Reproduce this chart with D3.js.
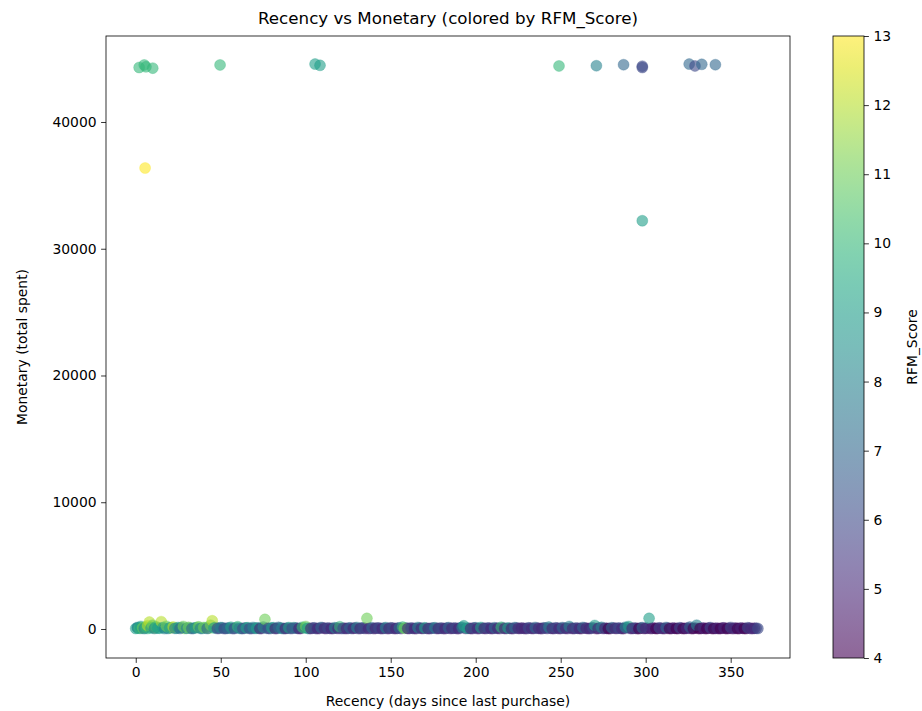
<!DOCTYPE html>
<html>
<head>
<meta charset="utf-8">
<script src="https://cdn.jsdelivr.net/npm/d3@7.9.0/dist/d3.min.js"></script>
<style>
  body { margin: 0; background: #fff; }
  svg { display: block; font-family: "DejaVu Sans", sans-serif; }
  .tick text { font-size: 13.9px; fill: #000; }
</style>
</head>
<body>
<svg id="chart" width="922" height="711"></svg>
<script>
// [recency days, monetary, RFM_Score]
const highSpenders = [
  [2, 44300, 10], [5, 44500, 10], [6, 44350, 10], [10, 44250, 10],
  [49.6, 44500, 10], [105.5, 44570, 9], [108.4, 44470, 9],
  [5.5, 36370, 13],
  [249, 44420, 10], [271, 44440, 8], [287, 44520, 7],
  [298, 44300, 6], [298, 44400, 6], [298, 32210, 9],
  [325.6, 44570, 7], [329, 44420, 6], [333, 44550, 7], [341, 44520, 7]
];

// background of the low-spend band
const bandFill = [
  [1,80,9],[3,50,8],[5,100,9],[7,40,10],[9,160,11],[11,90,12],[14,60,9],[19,40,8],
  [21,90,12],[24,60,9],[27,110,8],[29,40,11],[32,70,9],[34,50,7],[36,120,11],[39,40,8],
  [41,90,10],[43,60,11],[47,120,8],[49,50,6],[51,90,7],[53,40,6],[55,60,8],[57,30,6],
  [59,100,9],[62,40,7],[64,70,6],[66,100,9],[68,30,6],[70,50,7],[72,90,8],[74,40,6],
  [77,60,7],[79,30,6],[81,100,8],[83,40,6],[85,70,9],[87,30,6],[89,60,7],[91,40,6],
  [93,100,9],[95,60,6],[97,40,5],[99,80,10],[102,30,6],[104,70,6],[106,40,6],[108,50,5],
  [110,90,6],[112,30,5],[114,60,6],[116,40,5],[118,70,6],[121,30,6],[123,50,5],
  [125,60,6],[127,40,6],[129,70,5],[131,30,6],[133,90,7],[135,40,5],[138,60,6],[140,30,5],
  [142,70,6],[144,40,5],[146,60,7],[148,30,5],[150,90,6],[152,40,5],[154,60,6],[156,30,5],
  [159,80,7],[161,40,5],[163,60,6],[165,30,5],[167,70,6],[169,40,5],[171,60,6],[173,30,5],
  [175,80,7],[177,40,5],[179,60,6],[181,30,5],[183,70,6],[185,40,5],[187,60,6],[189,30,5],
  [191,90,7],[194,40,5],[196,60,6],[198,30,5],[200,100,8],[202,40,5],[204,60,6],[206,30,5],
  [208,70,6],[210,40,5],[212,60,6],[214,30,5],[216,80,6],[218,40,5],[220,60,6],[222,30,5],
  [224,70,6],[226,40,5],[228,60,6],[230,30,5],[232,70,6],[234,40,5],[236,60,6],[238,30,5],
  [240,90,7],[242,40,5],[244,60,6],[246,30,5],[248,70,6],[250,40,5],
  [252,60,6],[254,30,5],[256,70,6],[258,40,5],[260,60,6],[262,30,4],[264,80,6],[266,40,5],
  [268,60,6],[271,30,4],[273,70,6],[275,40,5],[277,60,6],[279,30,4],[281,80,6],[283,40,5],
  [285,60,6],[287,30,4],[289,90,7],[291,40,5],[293,60,5],[295,30,4],[297,70,6],[299,40,4],
  [301,60,5],[303,30,4],[305,70,5],[307,40,4],[309,60,5],[311,30,4],[313,70,5],[315,40,4],
  [317,60,5],[319,30,4],[321,70,5],[323,40,4],[325,60,5],[327,30,4],[329,70,5],[331,40,4],
  [333,60,5],[335,30,4],[337,70,5],[339,40,4],[341,60,5],[343,30,4],[345,70,5],[347,40,4],
  [349,60,5],[351,30,4],[353,70,5],[355,40,4],[357,60,5],[359,30,4],[361,70,5],[363,40,5],
  [365,60,6]
];

const recentBand = [
  [0,40,9],[1,120,8],[2,60,10],[3,200,9],[4,90,11],[5,30,8],[6,150,10],[7,260,12],
  [8,550,12],[9,80,9],[10,300,11],[11,40,8],[12,180,10],[13,70,9],[15,580,12],[16,110,9],
  [17,30,8],[18,220,11],[20,90,9],[22,160,12],[23,50,8],[25,120,9],[26,40,7],[28,200,11],
  [30,60,8],[31,130,11],[33,30,7],[35,90,9],[37,170,11],[38,50,8],[40,120,11],[42,40,7],
  [44,300,11],[45,650,12],[46,80,9],[48,40,6],[50,110,8],[52,30,6],[54,70,7],[56,140,9],
  [58,40,6],[60,180,10],[61,60,8],[63,30,6],[65,90,9],
  [67,40,6],[69,120,8],[71,60,9],[73,30,5],[75,150,8],[76,760,11],[78,50,6],[80,90,9],
  [82,30,5],[84,130,7],[86,60,8],[88,40,5],[90,110,9],[92,50,6],[94,80,7],[96,30,5],
  [98,140,10],[100,200,11],[101,60,9],[103,40,5],[105,90,6],[107,30,5],[109,120,7],
  [111,50,5],[113,80,6],[115,30,5],[117,100,8],[119,40,5],[120,180,10],[122,60,6]
];

const midBand = [
  [124,30,5],[126,90,7],[128,50,5],[130,120,8],[132,40,5],[134,70,6],[136,840,11],[137,30,5],
  [139,100,7],[141,50,5],[143,80,6],[145,30,5],[147,110,8],[149,40,5],[151,70,6],[153,30,5],
  [155,90,7],[157,150,10],[158,60,11],[160,40,5],[162,80,6],[164,30,5],[166,120,8],[168,50,5],
  [170,90,9],[172,30,5],[174,60,6],[176,100,8],[178,40,5],[180,70,6],[182,30,5],[184,110,7],
  [186,50,5],[188,80,6],[190,30,5],[192,130,8],[193,250,9],[195,60,9],[197,40,5],[199,90,6],
  [201,30,5],[203,120,9],[205,50,5],[207,80,6],[209,30,5],[211,100,7],[213,60,5],[215,140,10],
  [217,40,5],[219,80,9],[221,30,5],[223,110,7],[225,50,5],[227,70,5],[229,30,5],[231,90,6],
  [233,40,5],[235,120,7],[237,60,5],[239,30,5],[241,80,6],[243,150,8],[245,40,5],[247,90,6],
  [249,30,5]
];

const lateBand = [
  [251,110,7],[253,50,5],[255,200,8],[257,30,5],[259,70,6],[261,40,5],[263,120,7],[265,60,5],
  [267,30,5],[269,90,6],[270,280,9],[272,40,5],[274,130,8],[276,60,5],[278,30,4],[280,100,7],
  [282,50,5],[284,80,6],[286,30,5],[288,140,8],[290,200,9],[292,40,5],[294,70,6],[296,30,4],
  [298,110,7],[300,50,5],[302,840,9],[304,60,5],[306,30,4],[308,90,6],[310,40,5],[312,120,7],
  [314,30,4],[316,70,5],[318,40,4],[320,100,6],[322,30,4],[324,60,5],[326,150,7],[328,40,4],
  [330,300,8],[332,30,4],[334,80,5],[336,40,4],[338,110,6],[340,30,4],[342,60,5],[344,40,4],
  [346,90,5],[348,30,4],[350,120,6],[352,50,5],[354,30,4],[356,80,5],[358,40,4],[360,100,6],
  [362,30,5],[364,60,5],[366,40,6]
];

const xTicks = [0, 50, 100, 150, 200, 250, 300, 350];
const yTicks = [0, 10000, 20000, 30000, 40000];
const scoreTicks = [4, 5, 6, 7, 8, 9, 10, 11, 12, 13];

const svg = d3.select('#chart');
const plot = { left: 106, right: 790, top: 36, bottom: 658 };
const bar = { left: 833, right: 864 };
const alpha = 0.6;

const x = d3.scaleLinear().domain([-17.5, 384.9]).range([plot.left, plot.right]);
const y = d3.scaleLinear().domain([-2288, 46785]).range([plot.bottom, plot.top]);
const color = d3.scaleSequential(d3.interpolateViridis).domain([4, 13]);
const cy = d3.scaleLinear().domain([4, 13]).range([plot.bottom, plot.top]);

const points = [...bandFill, ...recentBand, ...midBand, ...lateBand, ...highSpenders];

svg.append('g')
  .selectAll('circle')
  .data(points)
  .join('circle')
  .attr('cx', d => x(d[0]))
  .attr('cy', d => y(d[1]))
  .attr('r', 5.5)
  .attr('fill', d => color(d[2]))
  .attr('fill-opacity', alpha)
  .attr('stroke', d => color(d[2]))
  .attr('stroke-opacity', alpha * 0.6)
  .attr('stroke-width', 0.8);

// frame
svg.append('rect')
  .attr('x', plot.left).attr('y', plot.top)
  .attr('width', plot.right - plot.left).attr('height', plot.bottom - plot.top)
  .attr('fill', 'none').attr('stroke', '#000').attr('stroke-width', 0.8);

const xAxis = svg.append('g')
  .attr('transform', `translate(0,${plot.bottom})`)
  .call(d3.axisBottom(x).tickValues(xTicks).tickSize(4.9).tickPadding(4.5));
const yAxis = svg.append('g')
  .attr('transform', `translate(${plot.left},0)`)
  .call(d3.axisLeft(y).tickValues(yTicks).tickFormat(d3.format('d')).tickSize(4.9).tickPadding(4.5));
[xAxis, yAxis].forEach(g => {
  g.select('.domain').remove();
  g.selectAll('.tick line').attr('stroke', '#000').attr('stroke-width', 0.8);
  g.selectAll('.tick text').style('font-family', '"DejaVu Sans", sans-serif');
});

// colorbar
const grad = svg.append('defs').append('linearGradient')
  .attr('id', 'viridis').attr('x1', 0).attr('y1', 1).attr('x2', 0).attr('y2', 0);
d3.range(0, 1.0001, 0.05).forEach(t => {
  grad.append('stop')
    .attr('offset', t)
    .attr('stop-color', d3.interpolateViridis(t))
    .attr('stop-opacity', alpha);
});
svg.append('rect')
  .attr('x', bar.left).attr('y', plot.top)
  .attr('width', bar.right - bar.left).attr('height', plot.bottom - plot.top)
  .attr('fill', 'url(#viridis)')
  .attr('stroke', '#000').attr('stroke-width', 0.8);

const cAxis = svg.append('g')
  .attr('transform', `translate(${bar.right},0)`)
  .call(d3.axisRight(cy).tickValues(scoreTicks).tickFormat(d3.format('d')).tickSize(4.9).tickPadding(4.5));
cAxis.select('.domain').remove();
cAxis.selectAll('.tick line').attr('stroke', '#000').attr('stroke-width', 0.8);
cAxis.selectAll('.tick text').style('font-family', '"DejaVu Sans", sans-serif');

// text
svg.append('text')
  .attr('x', (plot.left + plot.right) / 2).attr('y', 24)
  .attr('text-anchor', 'middle').attr('font-size', 16.7)
  .text('Recency vs Monetary (colored by RFM_Score)');
svg.append('text')
  .attr('x', (plot.left + plot.right) / 2).attr('y', 706)
  .attr('text-anchor', 'middle').attr('font-size', 13.9)
  .text('Recency (days since last purchase)');
svg.append('text')
  .attr('transform', `translate(27,${(plot.top + plot.bottom) / 2}) rotate(-90)`)
  .attr('text-anchor', 'middle').attr('font-size', 13.9)
  .text('Monetary (total spent)');
svg.append('text')
  .attr('transform', `translate(917,${(plot.top + plot.bottom) / 2}) rotate(-90)`)
  .attr('text-anchor', 'middle').attr('font-size', 13.9)
  .text('RFM_Score');
</script>
</body>
</html>
